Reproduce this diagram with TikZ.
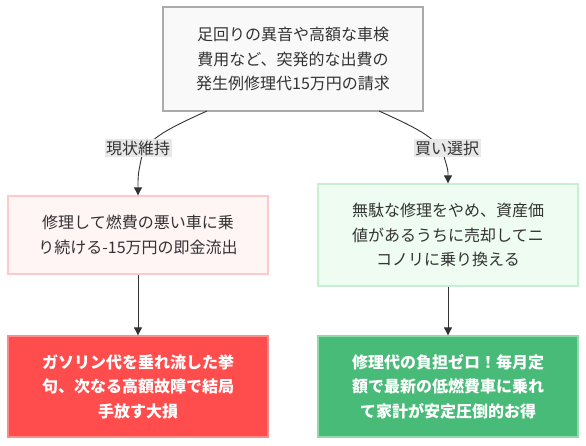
\documentclass[tikz,border=0pt]{standalone}
\usepackage{fontspec}
\setmainfont{Noto Sans CJK JP}
\usetikzlibrary{arrows.meta}
\definecolor{txt}{HTML}{333333}
\definecolor{topfill}{HTML}{F9F9F9}
\definecolor{topdraw}{HTML}{AAAAAA}
\definecolor{pinkfill}{HTML}{FFF5F5}
\definecolor{pinkdraw}{HTML}{FFC9C9}
\definecolor{mintfill}{HTML}{EEFCF1}
\definecolor{mintdraw}{HTML}{C6F0D2}
\definecolor{redfill}{HTML}{FF4D4D}
\definecolor{reddraw}{HTML}{FF8A8A}
\definecolor{grnfill}{HTML}{48BB78}
\definecolor{grndraw}{HTML}{8FDBA9}
\definecolor{lblfill}{HTML}{E8E8E8}
\tikzset{
  x=1pt,y=-1pt,
  box/.style={rectangle,line width=1.3pt,minimum width=260pt,align=center,
    text width=250pt,inner sep=0pt,text=txt,
    font=\fontsize{16pt}{24.5pt}\selectfont},
  topbox/.style={box,fill=topfill,draw=topdraw,minimum height=104pt},
  pinkbox/.style={box,fill=pinkfill,draw=pinkdraw,minimum height=78pt},
  mintbox/.style={box,fill=mintfill,draw=mintdraw,minimum height=102pt},
  redbox/.style={box,fill=redfill,draw=reddraw,minimum height=101pt,text=white,
    font=\fontsize{16pt}{24.5pt}\selectfont\bfseries},
  grnbox/.style={box,fill=grnfill,draw=grndraw,minimum height=101pt,text=white,
    font=\fontsize{16pt}{24.5pt}\selectfont\bfseries},
  lbl/.style={fill=lblfill,text=txt,inner sep=1.5pt,font=\fontsize{16pt}{18pt}\selectfont},
  conn/.style={draw=txt,line width=0.9pt,-{Triangle[length=8pt,width=8pt]}}
}
\begin{document}
\begin{tikzpicture}
\useasboundingbox (0,0) rectangle (586,446);
\node[topbox] (top) at (293,59) {足回りの異音や高額な車検\\費用など、突発的な出費の\\発生例修理代15万円の請求};
\node[pinkbox] (keep) at (138,235) {修理して燃費の悪い車に乗\\り続ける-15万円の即金流出};
\node[mintbox] (buy) at (448,235) {無駄な修理をやめ、資産価\\値があるうちに売却してニ\\コノリに乗り換える};
\node[redbox] (loss) at (138,386.5) {ガソリン代を垂れ流した挙\\句、次なる高額故障で結局\\手放す大損};
\node[grnbox] (gain) at (448,386.5) {修理代の負担ゼロ！毎月定\\額で最新の低燃費車に乗れ\\て家計が安定圧倒的お得};
\coordinate (ls) at (207,111);
\coordinate (rs) at (379,111);
\draw[conn] (ls) .. controls (165,130) and (145,140) .. (141,160) .. controls (138,175) .. (keep.north);
\draw[conn] (rs) .. controls (421,130) and (441,140) .. (445,160) .. controls (448,170) .. (buy.north);
\node[lbl] (l1) at (138,148) {現状維持};
\node[lbl] (l2) at (447,148) {買い選択};
\draw[conn] (keep.south) -- (loss.north);
\draw[conn] (buy.south) -- (gain.north);
\end{tikzpicture}
\end{document}
